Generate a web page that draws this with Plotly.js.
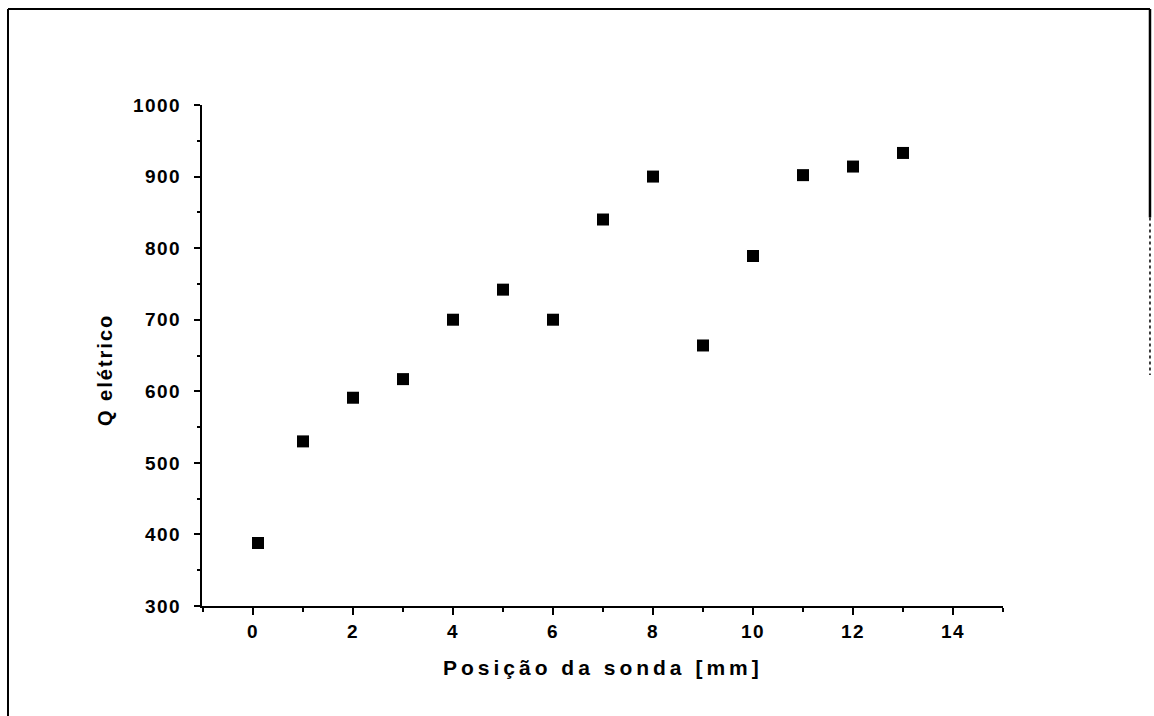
<!DOCTYPE html>
<html>
<head>
<meta charset="utf-8">
<script src="https://cdn.plot.ly/plotly-3.0.1.min.js"></script>
<style>
  html, body { margin: 0; padding: 0; background: #fff; }
  #chart { width: 1154px; height: 716px; }
  .ytick text, .xtick text { letter-spacing: 1.5px; }
  .annotation-text { letter-spacing: 4px; }
  g.annotation[data-index="1"] .annotation-text { letter-spacing: 2px; }
</style>
</head>
<body>
<div id="chart"></div>
<script>
// Data
const positions = [0.1, 1, 2, 3, 4, 5, 6, 7, 8, 9, 10, 11, 12, 13];
const qEletrico = [388, 530, 591, 617, 700, 742, 700, 840, 900, 664, 789, 902, 914, 933];
const xTitle = 'Posição da sonda [mm]';
const yTitle = 'Q elétrico';

const fontFam = 'Liberation Sans, Arial, sans-serif';

const trace = {
  x: positions,
  y: qEletrico,
  type: 'scatter',
  mode: 'markers',
  marker: { symbol: 'square', size: 12, color: '#000' },
  showlegend: false,
  hoverinfo: 'x+y'
};

const layout = {
  width: 1154,
  height: 716,
  paper_bgcolor: '#fff',
  plot_bgcolor: '#fff',
  margin: { l: 202, r: 151, t: 105, b: 110 },
  font: { family: fontFam, color: '#000' },
  xaxis: {
    range: [-1.02, 15],
    tick0: 0,
    dtick: 2,
    showgrid: false,
    zeroline: false,
    showline: true,
    linecolor: '#000',
    linewidth: 2,
    ticks: 'outside',
    ticklen: 7,
    tickwidth: 2,
    tickcolor: '#000',
    ticklabelstandoff: 0,
    tickfont: { family: fontFam, size: 19, weight: 'bold', color: '#000' },
    minor: { dtick: 1, tick0: 0, ticks: 'outside', ticklen: 4, tickwidth: 2, tickcolor: '#000', showgrid: false },
    fixedrange: true
  },
  yaxis: {
    range: [300, 1000],
    dtick: 100,
    showgrid: false,
    zeroline: false,
    showline: true,
    linecolor: '#000',
    linewidth: 2,
    ticks: 'outside',
    ticklen: 6,
    tickwidth: 2,
    tickcolor: '#000',
    ticklabelstandoff: 9,
    tickfont: { family: fontFam, size: 19, weight: 'bold', color: '#000' },
    minor: { dtick: 50, ticks: 'outside', ticklen: 3, tickwidth: 2, tickcolor: '#000', showgrid: false },
    fixedrange: true
  },
  annotations: [
    {
      text: xTitle, xref: 'paper', yref: 'paper', x: 0.5, y: -0.1228,
      xanchor: 'center', yanchor: 'middle', showarrow: false,
      font: { family: fontFam, size: 21, weight: 'bold', color: '#000' }
    },
    {
      text: yTitle, xref: 'paper', yref: 'paper', x: -0.1211, y: 0.471,
      xanchor: 'center', yanchor: 'middle', showarrow: false, textangle: -90,
      font: { family: fontFam, size: 20, weight: 'bold', color: '#000' }
    }
  ],
  shapes: [
    // frame of the scanned figure
    { type: 'line', xref: 'paper', yref: 'paper', x0: -0.2422, x1: -0.2422, y0: 1.1916, y1: -0.2196, line: { color: '#000', width: 2 } },
    { type: 'line', xref: 'paper', yref: 'paper', x0: -0.2422, x1: 1.1835, y0: 1.1916, y1: 1.1916, line: { color: '#000', width: 2 } },
    { type: 'line', xref: 'paper', yref: 'paper', x0: 1.1835, x1: 1.1835, y0: 1.1916, y1: 0.7755, line: { color: '#000', width: 2.5 } },
    { type: 'line', xref: 'paper', yref: 'paper', x0: 1.1835, x1: 1.1835, y0: 0.7755, y1: 0.4611, line: { color: '#000', width: 1.5, dash: 'dot' } }
  ]
};

Plotly.newPlot('chart', [trace], layout, { displayModeBar: false, staticPlot: true });
</script>
</body>
</html>
